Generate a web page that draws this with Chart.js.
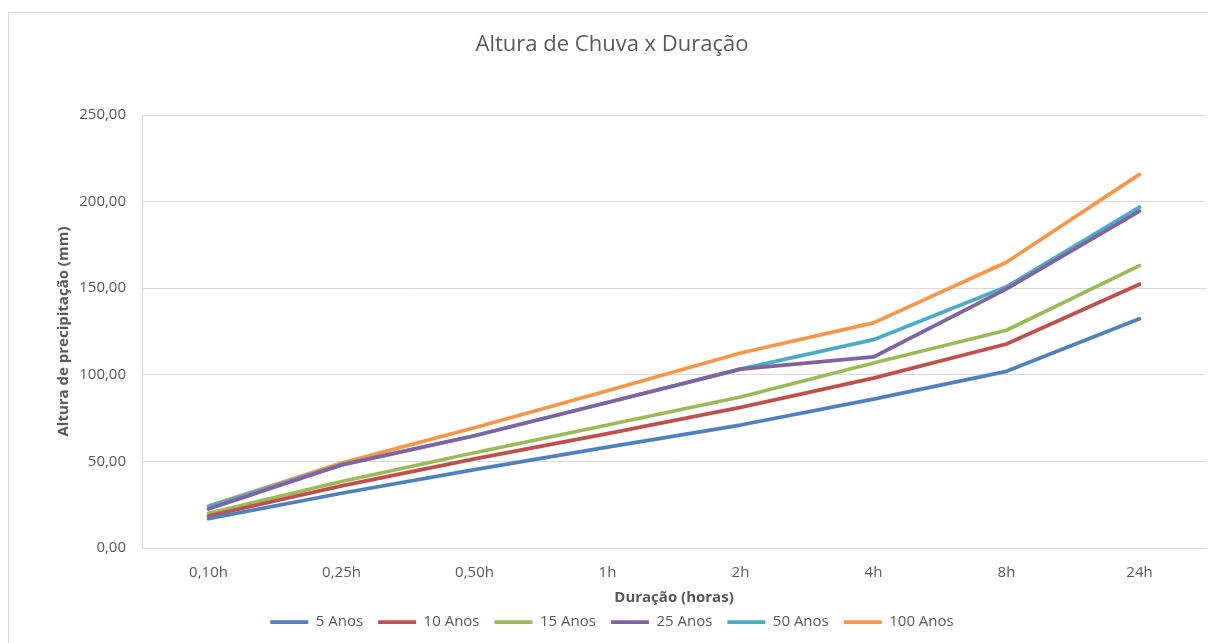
<!DOCTYPE html>
<html>
<head>
<meta charset="utf-8">
<script src="https://cdn.jsdelivr.net/npm/chart.js@4/dist/chart.umd.min.js"></script>
<style>
  html, body { margin: 0; padding: 0; background: #fff; overflow: hidden; }
  #moldura { position: absolute; left: 8px; top: 12px; width: 1300px; height: 700px; border: 1px solid #d9d9d9; }
  #wrap { position: absolute; left: 0; top: 0; width: 1208px; height: 643px; }
</style>
</head>
<body>
<div id="moldura"></div>
<div id="wrap"><canvas id="grafico" width="1208" height="643"></canvas></div>
<script>
// Duracoes (eixo X)
const duracoes = ["0,10h", "0,25h", "0,50h", "1h", "2h", "4h", "8h", "24h"];

// Altura de chuva (mm) por periodo de retorno
const anos5   = [17.0, 31.6, 45.3, 58.2, 71.0, 86.0, 102.0, 132.3];
const anos10  = [18.5, 35.9, 51.5, 66.0, 81.2, 98.1, 117.8, 152.3];
const anos15  = [20.0, 38.4, 55.0, 71.0, 87.2, 106.8, 125.7, 163.0];
const anos25  = [22.5, 48.0, 64.8, 84.0, 103.3, 110.3, 149.6, 194.5];
const anos50  = [24.0, 48.0, 64.8, 84.0, 103.3, 120.3, 150.8, 196.8];
const anos100 = [24.3, 49.0, 69.4, 90.8, 112.6, 130.0, 165.0, 215.7];

// Ticks do eixo Y
const yMin = 0, yMax = 250, yPasso = 50;

const cinza = "#595959";
const fonte = "'Open Sans', 'Noto Sans', sans-serif";

function serie(nome, valores, cor) {
  return {
    label: nome,
    data: valores,
    borderColor: cor,
    backgroundColor: cor,
    borderWidth: 3.75,
    borderCapStyle: "round",
    borderJoinStyle: "round",
    pointRadius: 0,
    pointHoverRadius: 0,
    pointStyle: "line",
    tension: 0,
    fill: false
  };
}

const ctx = document.getElementById("grafico").getContext("2d");
new Chart(ctx, {
  type: "line",
  data: {
    labels: duracoes,
    datasets: [
      serie("5 Anos", anos5, "#4F81BD"),
      serie("10 Anos", anos10, "#C0504D"),
      serie("15 Anos", anos15, "#9BBB59"),
      serie("25 Anos", anos25, "#8064A2"),
      serie("50 Anos", anos50, "#4BACC6"),
      serie("100 Anos", anos100, "#F79646")
    ]
  },
  options: {
    responsive: false,
    animation: false,
    layout: { padding: { left: 18, right: 2, top: 0, bottom: 3.5 } },
    plugins: {
      title: {
        display: true,
        text: "Altura de Chuva x Duração",
        color: cinza,
        font: { family: fonte, size: 22, weight: "normal" },
        padding: { top: 31.3, bottom: 57.3 }
      },
      legend: {
        position: "bottom",
        labels: {
          color: cinza,
          font: { family: fonte, size: 15 },
          usePointStyle: true,
          pointStyleWidth: 38,
          boxHeight: 4,
          padding: 15
        }
      },
      tooltip: { enabled: false }
    },
    scales: {
      x: {
        offset: true,
        grid: { display: false, drawTicks: false },
        border: { display: true, color: "#d9d9d9" },
        ticks: { color: cinza, font: { family: fonte, size: 15 }, padding: 16, maxRotation: 0 },
        title: {
          display: true,
          text: "Duração (horas)",
          color: cinza,
          font: { family: fonte, size: 15, weight: "bold" },
          padding: { top: 0, bottom: -7.5 }
        },
        afterFit: s => { s.height = 51.5; }
      },
      y: {
        min: yMin,
        max: yMax,
        grid: { color: "#d9d9d9", drawTicks: false },
        border: { display: true, color: "#d9d9d9" },
        ticks: {
          stepSize: yPasso,
          color: cinza,
          font: { family: fonte, size: 15 },
          padding: 16,
          callback: v => v.toFixed(2).replace(".", ",")
        },
        title: {
          display: true,
          text: "Altura de precipitação (mm)",
          color: cinza,
          font: { family: fonte, size: 15, weight: "bold" },
          padding: { top: 37, bottom: 0 }
        },
        afterFit: s => { s.width = 124; }
      }
    }
  }
});
</script>
</body>
</html>
